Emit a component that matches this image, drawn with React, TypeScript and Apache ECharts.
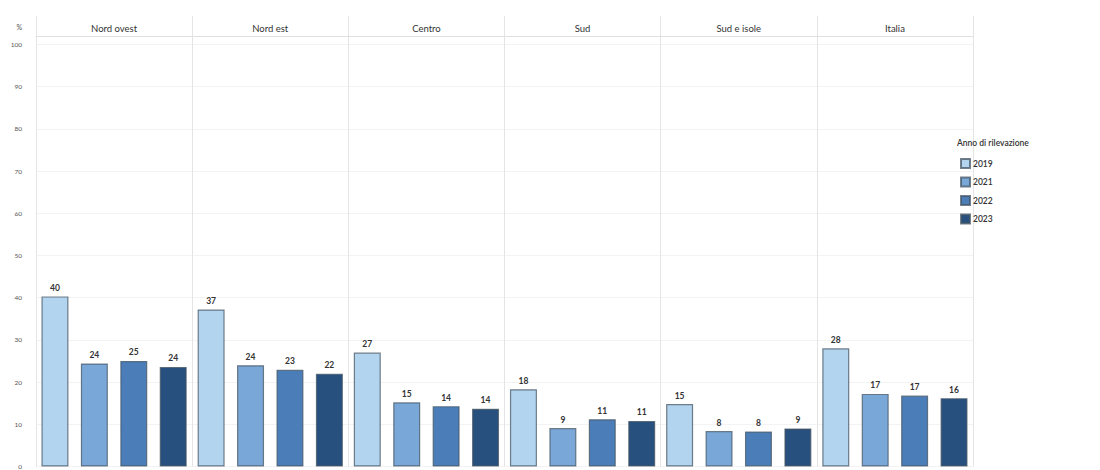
import React, { useEffect, useRef } from "react";
import * as echarts from "echarts";

const regions = ["Nord ovest", "Nord est", "Centro", "Sud", "Sud e isole", "Italia"];
const years = ["2019", "2021", "2022", "2023"];
const v2019 = [40.3, 37.2, 27.0, 18.3, 14.8, 28.0];
const v2021 = [24.4, 24.0, 15.2, 9.1, 8.4, 17.2];
const v2022 = [25.0, 22.9, 14.3, 11.2, 8.3, 16.8];
const v2023 = [23.6, 22.0, 13.7, 10.8, 9.0, 16.2];
const yearValues = [v2019, v2021, v2022, v2023];
const colors = ["#b3d4ee", "#79a8d8", "#4b7eb8", "#27507f"];
const yTicks = [0, 10, 20, 30, 40, 50, 60, 70, 80, 90, 100];

const FONT = "Lato, 'Noto Sans', sans-serif";

export default function App() {
  const ref = useRef<HTMLDivElement>(null);
  useEffect(() => {
    if (!ref.current) return;
    const chart = echarts.init(ref.current, null, { renderer: "svg" });
    chart.setOption({
      animation: false,
      textStyle: { fontFamily: FONT },
      title: {
        text: "Anno di rilevazione",
        left: 952,
        top: 133,
        textStyle: { fontSize: 8.5, fontWeight: 600, color: "#333", fontFamily: FONT },
      },
      legend: {
        orient: "vertical",
        left: 955,
        top: 153,
        itemWidth: 9,
        itemHeight: 9,
        itemGap: 7.5,
        icon: "rect",
        textStyle: { fontSize: 8.5, fontWeight: 600, color: "#333", fontFamily: FONT, padding: [0, 0, 0, -2] },
        data: years,
      },
      grid: [
        { left: 36, right: 127, top: 36, bottom: 3 },
        { left: 36, right: 127, top: 16, height: 20 },
      ],
      xAxis: [
        {
          type: "category",
          gridIndex: 0,
          data: regions,
          axisLine: { show: false },
          axisTick: { show: false },
          axisLabel: { show: false },
          splitLine: { show: true, showMinLine: true, showMaxLine: true, lineStyle: { color: "#e4e4e4", width: 1 } },
        },
        {
          type: "category",
          gridIndex: 1,
          data: regions,
          position: "bottom",
          axisLine: { show: true, lineStyle: { color: "#e0e0e0", width: 1 } },
          axisTick: { show: false },
          axisLabel: { inside: true, margin: 3, fontSize: 9.5, color: "#333", fontFamily: FONT },
          splitLine: { show: true, showMinLine: true, showMaxLine: true, lineStyle: { color: "#e4e4e4", width: 1 } },
        },
      ],
      yAxis: [
        {
          type: "value",
          gridIndex: 0,
          min: 0,
          max: 102,
          interval: 10,
          name: "%",
          nameLocation: "end",
          nameGap: 6,
          nameTextStyle: { fontSize: 7, color: "#555", align: "right", padding: [0, 14, 0, 0] },
          axisLine: { show: false },
          axisTick: { show: false },
          axisLabel: {
            fontSize: 6.5,
            color: "#555",
            margin: 14,
            formatter: (v: number) => (yTicks.indexOf(v) >= 0 ? String(v) : ""),
          },
          splitLine: { show: true, lineStyle: { color: "#f3f3f3", width: 1 } },
        },
        {
          type: "value",
          gridIndex: 1,
          show: false,
        },
      ],
      series: years.map((y, i) => ({
        name: y,
        type: "bar",
        xAxisIndex: 0,
        yAxisIndex: 0,
        data: yearValues[i],
        barWidth: 27,
        barGap: "46%",
        itemStyle: {
          color: colors[i],
          borderColor: "rgba(70,85,100,0.75)",
          borderWidth: 1.2,
        },
        label: {
          show: true,
          position: "top",
          distance: 4,
          fontSize: 8.5,
          fontWeight: "bold",
          color: "#333",
          fontFamily: FONT,
          formatter: (p: any) => String(Math.round(p.value)),
        },
      })),
    });
    return () => chart.dispose();
  }, []);
  return <div ref={ref} style={{ width: 1100, height: 470, position: "absolute", left: 0, top: 0, background: "#fff" }} />;
}
